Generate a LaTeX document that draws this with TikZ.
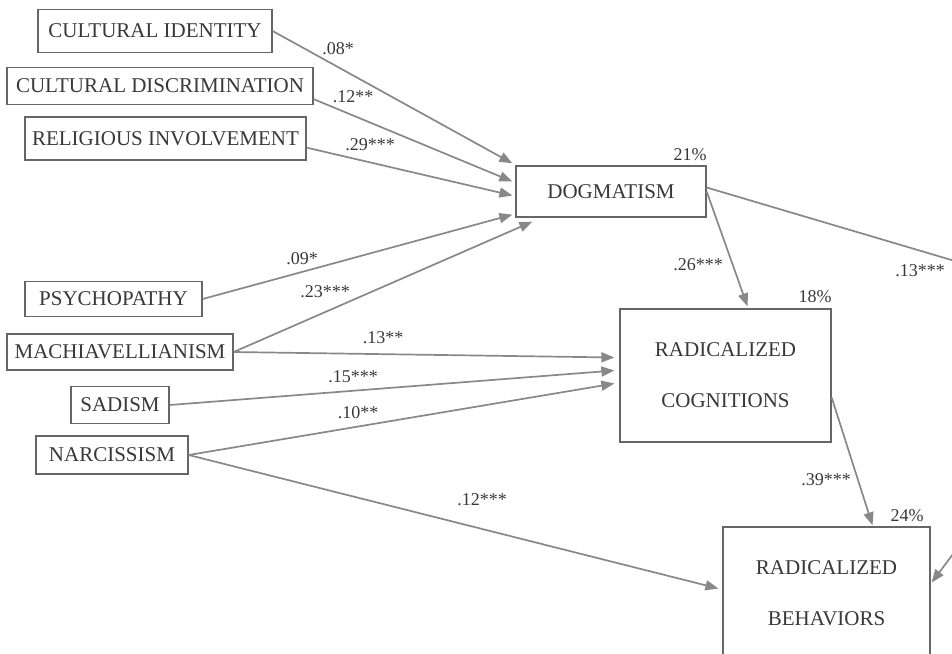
\documentclass[tikz,border=0pt]{standalone}
\usepackage{fontspec}
\setmainfont{Liberation Serif}
\usepackage{xcolor}
\usepackage{tikz}
\usetikzlibrary{arrows.meta, calc}

\definecolor{edgegray}{HTML}{888888}
\definecolor{boxgray}{HTML}{666666}
\definecolor{textgray}{HTML}{383838}

\begin{document}
\begin{tikzpicture}[
    x=0.5pt, y=-0.5pt,
    font=\fontsize{10.5}{12.5}\selectfont,
    var/.style={rectangle, draw=boxgray, line width=0.65pt, text=textgray, inner sep=0pt, align=center},
    link/.style={-{Triangle[length=6.5pt, width=5pt]}, draw=edgegray, line width=0.85pt},
    coef/.style={font=\fontsize{9}{10.8}\selectfont, text=textgray, inner sep=1pt},
]
    \path[use as bounding box, clip] (0,0) rectangle (952,653);

    % Predictors: culture and religion
    \node[var, minimum width=117pt, minimum height=21.5pt] (ci) at (155,31) {CULTURAL IDENTITY};
    \node[var, minimum width=153pt, minimum height=18.5pt] (cd) at (160,86) {CULTURAL DISCRIMINATION};
    \node[var, minimum width=140.5pt, minimum height=21.5pt] (ri) at (165.5,138.5) {RELIGIOUS INVOLVEMENT};

    % Predictors: dark tetrad
    \node[var, minimum width=88.5pt, minimum height=17.5pt] (psy) at (113.5,299) {PSYCHOPATHY};
    \node[var, minimum width=113pt, minimum height=18pt] (mach) at (120,352) {MACHIAVELLIANISM};
    \node[var, minimum width=49pt, minimum height=18.5pt] (sad) at (120,405) {SADISM};
    \node[var, minimum width=76pt, minimum height=19pt] (nar) at (112,455) {NARCISSISM};

    % Outcomes
    \node[var, minimum width=95pt, minimum height=25.5pt] (dog) at (611,191.5) {DOGMATISM};
    \node[var, minimum width=105.5pt, minimum height=66.5pt] (cog) at (725.5,375.5) {RADICALIZED\\[13pt]COGNITIONS};
    \node[var, minimum width=103.5pt, minimum height=66.5pt] (beh) at (826.5,593.5) {RADICALIZED\\[13pt]BEHAVIORS};

    % Explained variance
    \node[coef] (r2dog) at (690,155) {21\%};
    \node[coef] (r2cog) at (815,297) {18\%};
    \node[coef] (r2beh) at (907,516) {24\%};

    % Paths to dogmatism
    \draw[link] (ci.east) -- ($(dog.north west)+(-3,-2)$);
    \draw[link] ($(cd.south east)+(0,-6)$) -- ($(dog.west)+(-3,-10)$);
    \draw[link] ($(ri.south east)+(0,-13)$) -- ($(dog.west)+(-3,4)$);
    \draw[link] (psy.east) -- ($(dog.south west)+(-3,-3)$);
    \draw[link] (mach.east) -- ($(dog.south west)+(17,4)$);

    % Paths to radicalized cognitions
    \draw[link] (mach.east) -- ($(cog.west)+(-5,-18)$);
    \draw[link] (sad.east) -- ($(cog.west)+(-5,-5)$);
    \draw[link] (nar.east) -- ($(cog.west)+(-5,8)$);
    \draw[link] (dog.east) -- ($(cog.north)+(22,-2)$);

    % Paths to radicalized behaviors
    \draw[link] (nar.east) -- ($(beh.west)+(-4,-5)$);
    \draw[link] ($(cog.east)+(0,22)$) -- ($(beh.north)+(46,-1)$);
    \coordinate (bendA) at (965,264);
    \coordinate (bendB) at (965,538);
    \draw[link] ($(dog.east)+(0,-4)$) -- (bendA) -- (bendB) -- ($(beh.east)+(1,-11)$);

    % Coefficients
    \node[coef] (c1) at (338,49) {.08*};
    \node[coef] (c2) at (353,97) {.12**};
    \node[coef] (c3) at (370,145) {.29***};
    \node[coef] (c4) at (302,259) {.09*};
    \node[coef] (c5) at (325,292) {.23***};
    \node[coef] (c6) at (383,338) {.13**};
    \node[coef] (c7) at (353,377) {.15***};
    \node[coef] (c8) at (358,413) {.10**};
    \node[coef] (c9) at (482,500) {.12***};
    \node[coef] (c10) at (698,265) {.26***};
    \node[coef] (c11) at (920,271) {.13***};
    \node[coef] (c12) at (826,480) {.39***};
\end{tikzpicture}
\end{document}
